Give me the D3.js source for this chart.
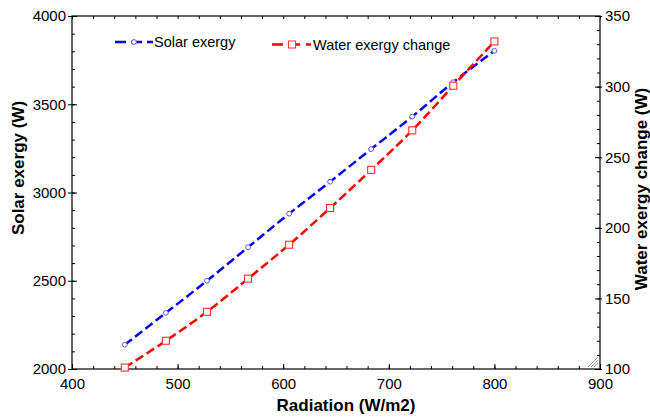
<!DOCTYPE html>
<html>
<head>
<meta charset="utf-8">
<script src="https://cdn.jsdelivr.net/npm/d3@7"></script>
<style>
  html, body { margin: 0; padding: 0; background: #fff; }
  svg { display: block; font-family: "Liberation Sans", Arial, sans-serif; }
</style>
</head>
<body>
<svg id="chart" width="650" height="418"></svg>
<script>
const radiation = [450, 488.9, 527.8, 566.7, 605.6, 644.4, 683.3, 722.2, 761.1, 800];
const solarExergy = [2138, 2318, 2500, 2690, 2880, 3061, 3246, 3430, 3625, 3803];
const waterExergyChange = [101, 120, 140.5, 164, 188, 214, 241, 269, 300.6, 332];
const xTicks = [400, 500, 600, 700, 800, 900];
const yLeftTicks = [2000, 2500, 3000, 3500, 4000];
const yRightTicks = [100, 150, 200, 250, 300, 350];

const W = 650;
const H = 418;
const margin = { top: 16, right: 50, bottom: 49, left: 72 };
const plotW = W - margin.left - margin.right;
const plotH = H - margin.top - margin.bottom;

const x = d3.scaleLinear().domain([400, 900]).range([0, plotW]);
const yL = d3.scaleLinear().domain([2000, 4000]).range([plotH, 0]);
const yR = d3.scaleLinear().domain([100, 350]).range([plotH, 0]);

const svg = d3.select("#chart");
const g = svg.append("g").attr("transform", `translate(${margin.left},${margin.top})`);

const fmt = d3.format("d");
const tickFont = (sel) => sel.selectAll("text").attr("fill", "#000").attr("font-size", "15px");
const noDomain = (sel) => sel.select(".domain").remove();
const lineStyle = (sel) => sel.selectAll("line").attr("stroke", "#000").attr("stroke-width", 1);

// minor ticks
g.append("g").attr("transform", `translate(0,${plotH})`)
  .call(d3.axisBottom(x).tickValues(d3.range(400, 901, 20)).tickSize(-3).tickFormat(""))
  .call(noDomain).call(lineStyle);
g.append("g")
  .call(d3.axisTop(x).tickValues(d3.range(400, 901, 20)).tickSize(-3).tickFormat(""))
  .call(noDomain).call(lineStyle);
g.append("g")
  .call(d3.axisLeft(yL).tickValues(d3.range(2000, 4001, 100)).tickSize(-3).tickFormat(""))
  .call(noDomain).call(lineStyle);
g.append("g").attr("transform", `translate(${plotW},0)`)
  .call(d3.axisRight(yR).tickValues(d3.range(100, 351, 10)).tickSize(-3).tickFormat(""))
  .call(noDomain).call(lineStyle);

// major ticks + labels
g.append("g").attr("transform", `translate(0,${plotH})`)
  .call(d3.axisBottom(x).tickValues(xTicks).tickSize(-5).tickPadding(9).tickFormat(fmt))
  .call(noDomain).call(lineStyle).call(tickFont);
g.append("g")
  .call(d3.axisLeft(yL).tickValues(yLeftTicks).tickSizeInner(-5).tickSizeOuter(0).tickPadding(6).tickFormat(fmt))
  .call(noDomain).call(lineStyle).call(tickFont)
  .call((sel) => sel.selectAll(".tick").append("line").attr("x2", -4).attr("stroke", "#000"));
g.append("g").attr("transform", `translate(${plotW},0)`)
  .call(d3.axisRight(yR).tickValues(yRightTicks).tickSizeInner(-5).tickSizeOuter(0).tickPadding(5).tickFormat(fmt))
  .call(noDomain).call(lineStyle).call(tickFont)
  .call((sel) => sel.selectAll(".tick").append("line").attr("x2", 2).attr("stroke", "#000"));

// frame
g.append("rect").attr("width", plotW).attr("height", plotH)
  .attr("fill", "none").attr("stroke", "#000").attr("stroke-width", 1.2);

// axis titles
svg.append("text").attr("x", margin.left + plotW / 2 + 10).attr("y", 411)
  .attr("text-anchor", "middle").attr("font-size", "17px").attr("font-weight", "bold")
  .text("Radiation (W/m2)");
svg.append("text").attr("transform", "translate(24,168) rotate(-90)")
  .attr("text-anchor", "middle").attr("font-size", "17px").attr("font-weight", "bold")
  .text("Solar exergy (W)");
svg.append("text").attr("transform", "translate(647,189) rotate(-90)")
  .attr("text-anchor", "middle").attr("font-size", "17px").attr("font-weight", "bold")
  .text("Water exergy change (W)");

// series
const lineSolar = d3.line().x((d, i) => x(radiation[i])).y((d) => yL(d)).curve(d3.curveMonotoneX);
const lineWater = d3.line().x((d, i) => x(radiation[i])).y((d) => yR(d)).curve(d3.curveMonotoneX);

g.append("path").datum(solarExergy)
  .attr("fill", "none").attr("stroke", "#0000ff").attr("stroke-width", 2.5)
  .attr("stroke-dasharray", "9,4").attr("d", lineSolar);
g.append("path").datum(waterExergyChange)
  .attr("fill", "none").attr("stroke", "#ff0000").attr("stroke-width", 2.5)
  .attr("stroke-dasharray", "9,4").attr("d", lineWater);

g.selectAll("circle.solar").data(solarExergy).join("circle")
  .attr("class", "solar")
  .attr("cx", (d, i) => x(radiation[i])).attr("cy", (d) => yL(d))
  .attr("r", 2.4).attr("fill", "#fff").attr("stroke", "#5555ff").attr("stroke-width", 1);

g.selectAll("rect.water").data(waterExergyChange).join("rect")
  .attr("class", "water")
  .attr("x", (d, i) => x(radiation[i]) - 3.5).attr("y", (d) => yR(d) - 3.5)
  .attr("width", 7).attr("height", 7)
  .attr("fill", "#fff").attr("stroke", "#ff3030").attr("stroke-width", 1.1);

// legend
const leg = svg.append("g");
leg.append("line").attr("x1", 115).attr("x2", 153).attr("y1", 42).attr("y2", 42)
  .attr("stroke", "#0000ff").attr("stroke-width", 2.5).attr("stroke-dasharray", "11,5");
leg.append("circle").attr("cx", 134).attr("cy", 42).attr("r", 2.4)
  .attr("fill", "#fff").attr("stroke", "#5555ff");
leg.append("text").attr("x", 154).attr("y", 47).attr("font-size", "14.5px").attr("fill", "#000")
  .text("Solar exergy");
leg.append("line").attr("x1", 272).attr("x2", 311).attr("y1", 44.5).attr("y2", 44.5)
  .attr("stroke", "#ff0000").attr("stroke-width", 2.5).attr("stroke-dasharray", "11,6");
leg.append("rect").attr("x", 288.5).attr("y", 41).attr("width", 7).attr("height", 7)
  .attr("fill", "#fff").attr("stroke", "#ff3030");
leg.append("text").attr("x", 313).attr("y", 49.5).attr("font-size", "14.5px").attr("fill", "#000")
  .text("Water exergy change");

// resize grip in corner
const grip = svg.append("g").attr("stroke", "#999").attr("stroke-width", 1);
[4, 7, 10].forEach((k) => {
  grip.append("line")
    .attr("x1", margin.left + plotW - 2 - k).attr("y1", margin.top + plotH - 2)
    .attr("x2", margin.left + plotW - 2).attr("y2", margin.top + plotH - 2 - k);
});
</script>
</body>
</html>
